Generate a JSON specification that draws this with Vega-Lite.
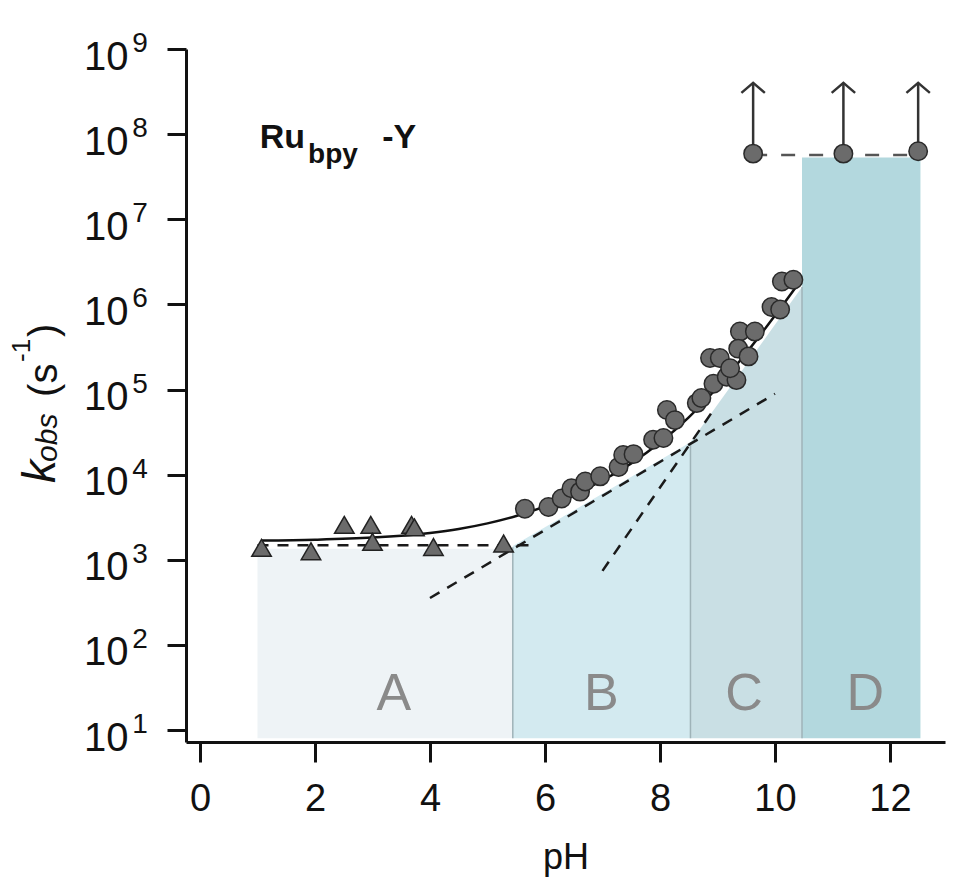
{
  "$schema": "https://vega.github.io/schema/vega-lite/v6.json",
  "width": 759,
  "height": 693,
  "autosize": {"type": "none"},
  "padding": {"left": 186, "top": 49, "right": 10, "bottom": 138},
  "background": "white",
  "config": {"view": {"stroke": null}, "font": "Liberation Sans"},
  "datasets": {
    "regions": [
      {"region": "A", "pH": 1.0, "k": 1350, "k2": 8},
      {"region": "A", "pH": 5.44, "k": 1350, "k2": 8},
      {"region": "B", "pH": 5.44, "k": 1450, "k2": 8},
      {"region": "B", "pH": 8.53, "k": 24000, "k2": 8},
      {"region": "C", "pH": 8.53, "k": 24000, "k2": 8},
      {"region": "C", "pH": 10.47, "k": 1600000, "k2": 8},
      {"region": "D", "pH": 10.47, "k": 53000000, "k2": 8},
      {"region": "D", "pH": 12.53, "k": 53000000, "k2": 8}
    ],
    "dividers": [
      {"pH": 5.44, "k": 1400, "k2": 8},
      {"pH": 8.53, "k": 24000, "k2": 8},
      {"pH": 10.47, "k": 1600000, "k2": 8}
    ],
    "letters": [
      {"label": "A", "pH": 3.37, "k": 17.2},
      {"label": "B", "pH": 6.98, "k": 17.2},
      {"label": "C", "pH": 9.46, "k": 17.2},
      {"label": "D", "pH": 11.57, "k": 17.2}
    ],
    "dashBlack": [
      {"seg": "h", "pH": 1.0, "k": 1480},
      {"seg": "h", "pH": 5.85, "k": 1480},
      {"seg": "s1", "pH": 4.0, "k": 355},
      {"seg": "s1", "pH": 10.0, "k": 89100},
      {"seg": "s2", "pH": 7.0, "k": 741},
      {"seg": "s2", "pH": 8.9, "k": 53700}
    ],
    "dashGray": [
      {"pH": 9.62, "k": 57000000},
      {"pH": 12.49, "k": 57000000}
    ],
    "curve": [
      {"pH": 1.07, "k": 1680},
      {"pH": 2.0, "k": 1720},
      {"pH": 3.0, "k": 1820},
      {"pH": 4.0, "k": 2065},
      {"pH": 4.5, "k": 2300},
      {"pH": 5.0, "k": 2676},
      {"pH": 5.5, "k": 3271},
      {"pH": 6.0, "k": 4228},
      {"pH": 6.5, "k": 5807},
      {"pH": 7.0, "k": 8531},
      {"pH": 7.5, "k": 13560},
      {"pH": 8.0, "k": 23810},
      {"pH": 8.5, "k": 47180},
      {"pH": 9.0, "k": 106400},
      {"pH": 9.5, "k": 269000},
      {"pH": 10.0, "k": 739600},
      {"pH": 10.4, "k": 1728000}
    ],
    "triangles": [
      {"pH": 1.07, "k": 1380},
      {"pH": 1.93, "k": 1260},
      {"pH": 2.51, "k": 2570},
      {"pH": 2.97, "k": 2570},
      {"pH": 3.0, "k": 1620},
      {"pH": 3.68, "k": 2570},
      {"pH": 3.73, "k": 2400},
      {"pH": 4.06, "k": 1410},
      {"pH": 5.28, "k": 1550}
    ],
    "circles": [
      {"pH": 5.65, "k": 3980},
      {"pH": 6.06, "k": 4170},
      {"pH": 6.29, "k": 5250},
      {"pH": 6.46, "k": 6920},
      {"pH": 6.61, "k": 6310},
      {"pH": 6.70, "k": 8320},
      {"pH": 6.96, "k": 9550},
      {"pH": 7.28, "k": 12300},
      {"pH": 7.36, "k": 17000},
      {"pH": 7.54, "k": 17400},
      {"pH": 7.88, "k": 25700},
      {"pH": 8.06, "k": 26900},
      {"pH": 8.12, "k": 57500},
      {"pH": 8.26, "k": 43700},
      {"pH": 8.64, "k": 69200},
      {"pH": 8.72, "k": 79400},
      {"pH": 8.87, "k": 234000},
      {"pH": 9.04, "k": 234000},
      {"pH": 8.93, "k": 117000},
      {"pH": 9.16, "k": 141000},
      {"pH": 9.33, "k": 129000},
      {"pH": 9.22, "k": 178000},
      {"pH": 9.39, "k": 479000},
      {"pH": 9.65, "k": 479000},
      {"pH": 9.36, "k": 302000},
      {"pH": 9.54, "k": 245000},
      {"pH": 9.94, "k": 933000},
      {"pH": 10.09, "k": 871000},
      {"pH": 10.12, "k": 1860000},
      {"pH": 10.32, "k": 1950000},
      {"pH": 9.62, "k": 59000000},
      {"pH": 11.19, "k": 59000000},
      {"pH": 12.49, "k": 63000000}
    ],
    "arrows": [
      {"pH": 9.62, "k": 59000000, "k2": 400000000},
      {"pH": 11.19, "k": 59000000, "k2": 400000000},
      {"pH": 12.49, "k": 63000000, "k2": 400000000}
    ],
    "tips": [
      {"pH": 9.62, "k": 400000000},
      {"pH": 11.19, "k": 400000000},
      {"pH": 12.49, "k": 400000000}
    ],
    "exponents": [
      {"e": "1", "pH": -1.18, "k": 10},
      {"e": "2", "pH": -1.18, "k": 100},
      {"e": "3", "pH": -1.18, "k": 1000},
      {"e": "4", "pH": -1.18, "k": 10000},
      {"e": "5", "pH": -1.18, "k": 100000},
      {"e": "6", "pH": -1.18, "k": 1000000},
      {"e": "7", "pH": -1.18, "k": 10000000},
      {"e": "8", "pH": -1.18, "k": 100000000},
      {"e": "9", "pH": -1.18, "k": 1000000000}
    ],
    "labelBig": [
      {"t": "Ru", "pH": 1.04, "k": 69000000},
      {"t": "-Y", "pH": 3.17, "k": 69000000}
    ],
    "labelSub": [
      {"t": "bpy", "pH": 1.88, "k": 46000000}
    ],
    "ytK": [{"t": "k", "pH": -2.52, "k": 7980}],
    "ytObs": [{"t": "obs", "pH": -2.49, "k": 14100}],
    "ytParen": [
      {"t": "(s", "pH": -2.49, "k": 81800},
      {"t": ")", "pH": -2.49, "k": 415000}
    ],
    "ytPow": [{"t": "-1", "pH": -2.96, "k": 211000}]
  },
  "encoding": {
    "x": {
      "field": "pH",
      "type": "quantitative",
      "scale": {"domain": [-0.2435, 12.957], "nice": false, "zero": false},
      "axis": {
        "values": [0, 2, 4, 6, 8, 10, 12],
        "title": "pH",
        "titleFontSize": 36,
        "titleFontWeight": "normal",
        "titleColor": "#111111",
        "titlePadding": 22,
        "labelFontSize": 38,
        "labelPadding": 18,
        "labelColor": "#111111",
        "labelFlush": false,
        "labelOverlap": false,
        "tickSize": 20,
        "tickWidth": 3,
        "tickColor": "#111111",
        "domainWidth": 3,
        "domainColor": "#111111",
        "grid": false
      }
    },
    "y": {
      "field": "k",
      "type": "quantitative",
      "scale": {"type": "log", "domain": [7.23, 1000000000], "nice": false},
      "axis": {
        "values": [10, 100, 1000, 10000, 100000, 1000000, 10000000, 100000000, 1000000000],
        "title": null,
        "labelExpr": "'10'",
        "labelFontSize": 40,
        "labelPadding": 39,
        "labelOffset": 8,
        "labelColor": "#111111",
        "labelFlush": false,
        "labelOverlap": false,
        "tickSize": 19,
        "tickWidth": 3,
        "tickColor": "#111111",
        "domainWidth": 3,
        "domainColor": "#111111",
        "grid": false
      }
    }
  },
  "layer": [
    {
      "data": {"name": "regions"},
      "mark": {"type": "area", "opacity": 1},
      "encoding": {
        "y2": {"field": "k2"},
        "color": {
          "field": "region",
          "type": "nominal",
          "scale": {"domain": ["A", "B", "C", "D"], "range": ["#eef3f6", "#d3eaf0", "#c9dfe4", "#b3d8de"]},
          "legend": null
        }
      }
    },
    {
      "data": {"name": "dividers"},
      "mark": {"type": "rule", "color": "#9fb3b8", "strokeWidth": 1.5},
      "encoding": {"y2": {"field": "k2"}}
    },
    {
      "data": {"name": "letters"},
      "mark": {"type": "text", "fontSize": 52, "color": "#8a8a8a", "align": "center", "baseline": "alphabetic"},
      "encoding": {"text": {"field": "label"}}
    },
    {
      "data": {"name": "dashBlack"},
      "mark": {"type": "line", "color": "#1a1a1a", "strokeWidth": 2.5, "strokeDash": [11, 9]},
      "encoding": {"detail": {"field": "seg"}}
    },
    {
      "data": {"name": "dashGray"},
      "mark": {"type": "line", "color": "#555555", "strokeWidth": 2.5, "strokeDash": [14, 14]},
      "encoding": {}
    },
    {
      "data": {"name": "curve"},
      "mark": {"type": "line", "color": "#111111", "strokeWidth": 2.5, "interpolate": "monotone"},
      "encoding": {}
    },
    {
      "data": {"name": "arrows"},
      "mark": {"type": "rule", "color": "#333333", "strokeWidth": 2.5},
      "encoding": {"y2": {"field": "k2"}}
    },
    {
      "data": {"name": "tips"},
      "mark": {"type": "point", "shape": "M-1,0.85L0,0L1,0.85", "filled": false, "stroke": "#333333", "strokeWidth": 2.5, "size": 550, "opacity": 1},
      "encoding": {}
    },
    {
      "data": {"name": "triangles"},
      "mark": {"type": "point", "shape": "triangle-up", "filled": true, "fill": "#6b6b6b", "stroke": "#222222", "strokeWidth": 1.5, "size": 380, "opacity": 1},
      "encoding": {}
    },
    {
      "data": {"name": "circles"},
      "mark": {"type": "point", "shape": "circle", "filled": true, "fill": "#6b6b6b", "stroke": "#2a2a2a", "strokeWidth": 1.5, "size": 340, "opacity": 1},
      "encoding": {}
    },
    {
      "data": {"name": "exponents"},
      "mark": {"type": "text", "fontSize": 28, "color": "#111111", "align": "left", "baseline": "alphabetic", "dy": 3},
      "encoding": {"text": {"field": "e"}}
    },
    {
      "data": {"name": "labelBig"},
      "mark": {"type": "text", "fontSize": 34, "fontWeight": "bold", "color": "#111111", "align": "left", "baseline": "alphabetic"},
      "encoding": {"text": {"field": "t"}}
    },
    {
      "data": {"name": "labelSub"},
      "mark": {"type": "text", "fontSize": 28, "fontWeight": "bold", "color": "#111111", "align": "left", "baseline": "alphabetic"},
      "encoding": {"text": {"field": "t"}}
    },
    {
      "data": {"name": "ytK"},
      "mark": {"type": "text", "fontSize": 46, "fontStyle": "italic", "color": "#111111", "angle": 270, "align": "left", "baseline": "alphabetic"},
      "encoding": {"text": {"field": "t"}}
    },
    {
      "data": {"name": "ytObs"},
      "mark": {"type": "text", "fontSize": 30, "fontStyle": "italic", "color": "#111111", "angle": 270, "align": "left", "baseline": "alphabetic"},
      "encoding": {"text": {"field": "t"}}
    },
    {
      "data": {"name": "ytParen"},
      "mark": {"type": "text", "fontSize": 40, "color": "#111111", "angle": 270, "align": "left", "baseline": "alphabetic"},
      "encoding": {"text": {"field": "t"}}
    },
    {
      "data": {"name": "ytPow"},
      "mark": {"type": "text", "fontSize": 26, "color": "#111111", "angle": 270, "align": "left", "baseline": "alphabetic"},
      "encoding": {"text": {"field": "t"}}
    }
  ]
}
